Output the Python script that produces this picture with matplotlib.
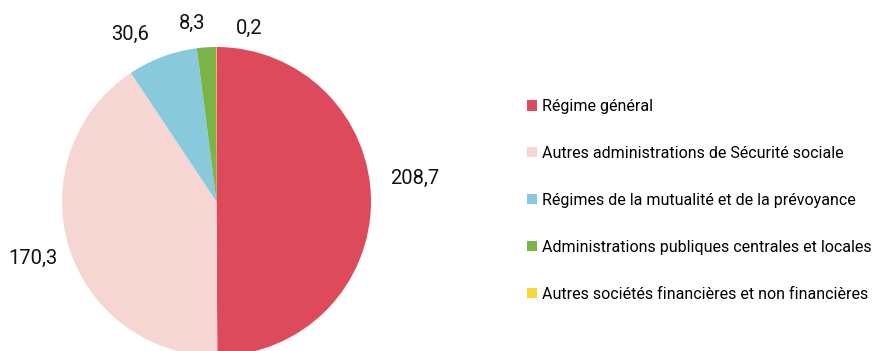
import matplotlib
matplotlib.use('Agg')
import matplotlib.pyplot as plt
from matplotlib.patches import Patch

labels = ['Régime général',
          'Autres administrations de Sécurité sociale',
          'Régimes de la mutualité et de la prévoyance',
          'Administrations publiques centrales et locales',
          'Autres sociétés financières et non financières']
values = [208.7, 170.3, 30.6, 8.3, 0.2]
value_text = ['208,7', '170,3', '30,6', '8,3', '0,2']
colors = ['#DC4A5C', '#F6D6D3', '#88CADB', '#7AB445', '#F3DA3A']

# where each value label sits (pie radius = 1)
label_pos = [(1.28, 0.15), (-1.19, -0.37), (-0.56, 1.08), (-0.16, 1.15), (0.21, 1.12)]

plt.rcParams['font.family'] = ['Roboto', 'DejaVu Sans']

W, H = 874, 351
fig = plt.figure(figsize=(W / 100, H / 100), dpi=100)

# pie centre (216.5, 201.5) px, radius 154.5 px
cx, cy, r = 216.5, H - 201.5, 154.5
ax = fig.add_axes([(cx - r) / W, (cy - r) / H, 2 * r / W, 2 * r / H])
wedges, _ = ax.pie(values, colors=colors, startangle=90, counterclock=False,
                   wedgeprops=dict(linewidth=0))
ax.set_xlim(-1, 1)
ax.set_ylim(-1, 1)
ax.set_aspect('equal')
ax.axis('off')

for txt, (x, y) in zip(value_text, label_pos):
    ax.text(x, y, txt, ha='center', va='center', fontsize=14.5, color='#111111')

handles = [Patch(facecolor=c, edgecolor='none') for c in colors]
fig.legend(handles, labels, loc='upper left', bbox_to_anchor=(527 / W, 1 - 99 / H),
           frameon=False, fontsize=11.5, handlelength=0.62, handleheight=0.62,
           handletextpad=0.3, labelspacing=2.0, borderaxespad=0, borderpad=0)

fig.savefig('out.png', dpi=100)
